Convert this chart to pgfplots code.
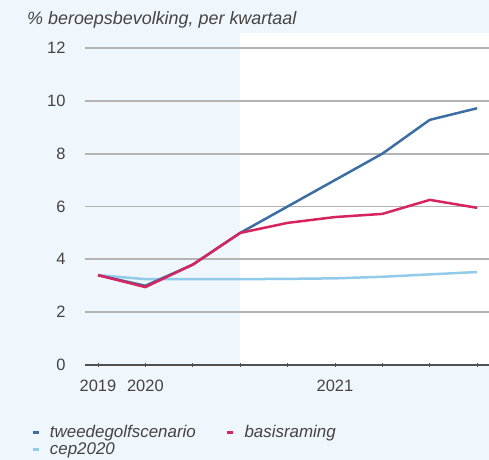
\documentclass[border=0pt]{standalone}
\usepackage{pgfplots}
\pgfplotsset{compat=1.18}
\usepackage{fontspec}
\setmainfont{Liberation Sans}
\definecolor{bgblue}{HTML}{EFF6FC}
\definecolor{tgs}{HTML}{3B6FA3}
\definecolor{basis}{HTML}{D8245E}
\definecolor{cep}{HTML}{92CBEA}
\definecolor{gridc}{HTML}{B4B4B4}
\definecolor{axc}{HTML}{505050}
\definecolor{txt}{HTML}{444444}
\begin{document}
\begin{tikzpicture}[x=1bp,y=1bp]
\path[use as bounding box] (0,0) rectangle (489,460);
\fill[bgblue] (0,0) rectangle (489,460);
\fill[white] (240,95) rectangle (489,427);
\node[anchor=west, inner sep=0pt, text=txt, font=\fontsize{18}{21}\selectfont\itshape] at (27,440) {\% beroepsbevolking, per kwartaal};
\begin{axis}[
  at={(85bp,95bp)}, anchor=south west,
  scale only axis, width=404bp, height=317bp,
  xmin=-0.274, xmax=8.25, ymin=0, ymax=12,
  xtick={0,1,2,3,4,5,6,7,8},
  xticklabels={2019,2020,,,,2021,,,},
  ytick={0,2,4,6,8,10,12},
  axis x line*=bottom, axis y line*=left,
  x axis line style={-, draw=axc, line width=2.2bp},
  y axis line style={draw=none},
  ymajorgrids, major grid style={gridc, line width=1.8bp},
  xtick style={draw=axc, line width=0.8bp},
  x tick label style={yshift=-10bp},
  ytick style={draw=none},
  major tick length=4bp, tick align=center,
  yticklabel style={xshift=-14bp},
  tick label style={text=txt, font=\fontsize{16.5}{19}\selectfont},
  /pgf/number format/assume math mode=true,
  clip=false,
  legend style={at={(-0.141,-0.178)}, anchor=north west, draw=none, fill=none,
    font=\fontsize{17}{19}\selectfont\itshape, text=txt,
    /tikz/every even column/.append style={column sep=28bp},
    row sep=-1bp},
  legend columns=2, legend cell align=left,
  legend image code/.code={\draw[#1, line width=3bp] (0bp,0bp) -- (6bp,0bp); \path (15bp,0bp);},
]
\addplot[cep, line width=2.5bp, forget plot] coordinates {(0,3.4) (1,3.25) (2,3.25) (3,3.25) (4,3.26) (5,3.28) (6,3.34) (7,3.43) (8,3.52)};
\addplot[tgs, line width=2.5bp, forget plot] coordinates {(0,3.4) (1,3.0) (2,3.8) (3,5.0) (4,6.0) (5,7.0) (6,8.0) (7,9.28) (8,9.72)};
\addplot[basis, line width=2.5bp, forget plot] coordinates {(0,3.4) (1,2.95) (2,3.8) (3,5.0) (4,5.38) (5,5.6) (6,5.72) (7,6.25) (8,5.95)};
\addlegendimage{tgs}
\addlegendentry{tweedegolfscenario}
\addlegendimage{basis}
\addlegendentry{basisraming}
\addlegendimage{cep}
\addlegendentry{cep2020}
\end{axis}
\end{tikzpicture}
\end{document}
